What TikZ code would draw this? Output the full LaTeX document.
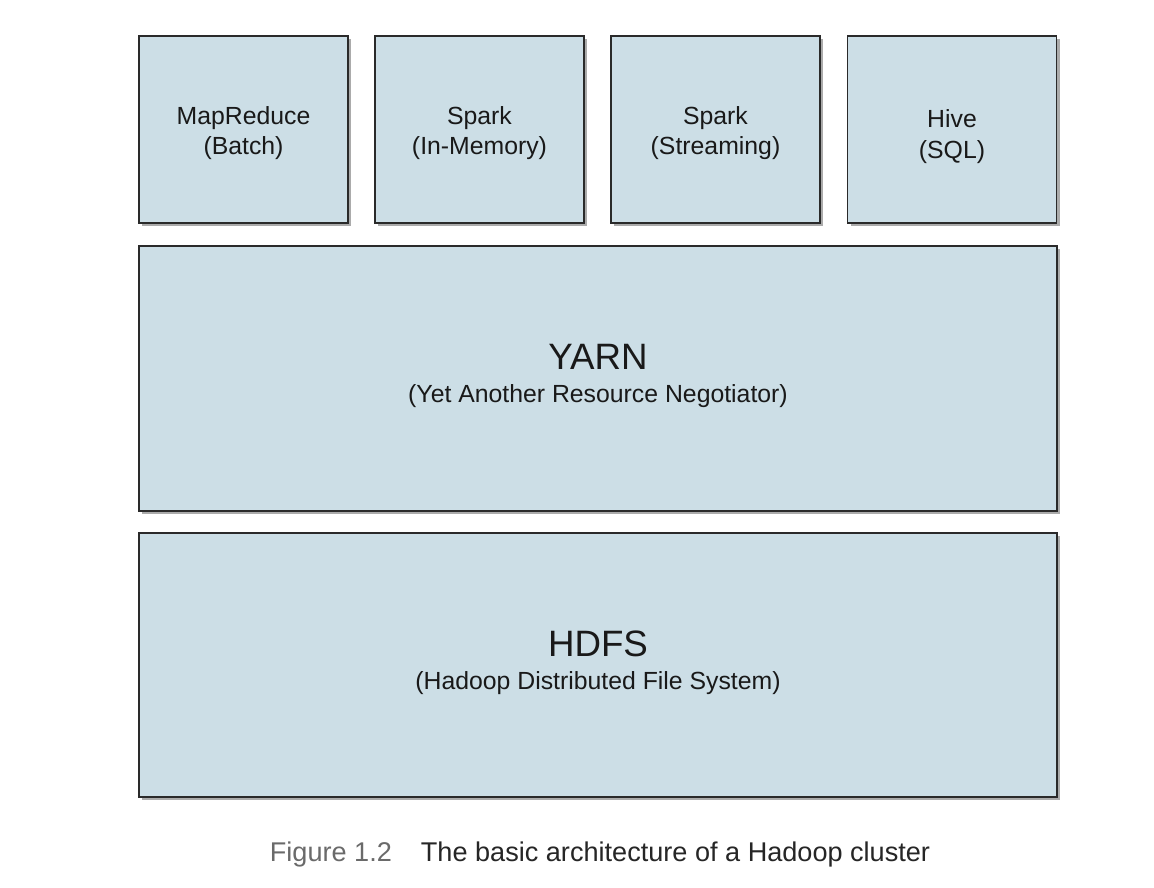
\documentclass[tikz,border=0pt]{standalone}
\usepackage{fontspec}
\setmainfont{Liberation Sans}
\usetikzlibrary{shadows}
\definecolor{boxfill}{HTML}{CCDEE6}
\definecolor{boxline}{HTML}{2A2A2A}
\definecolor{capgray}{HTML}{6A6A6A}
\begin{document}
\begin{tikzpicture}[x=1pt,y=-1pt,
  layer/.style={draw=boxline, line width=1.6pt, fill=boxfill, inner sep=0pt,
    drop shadow={shadow xshift=3pt, shadow yshift=-3pt, fill=black!55, opacity=0.6}},
  small/.style={layer, minimum width=209pt, minimum height=187pt},
  big/.style={layer, minimum width=918pt, minimum height=265pt},
  txt/.style={align=center, inner sep=0pt, text=black!90, font=\fontsize{24.8}{30.5}\selectfont},
  title/.style={font=\fontsize{36.7}{40}\selectfont}
]
\useasboundingbox[fill=white] (0,0) rectangle (1154,888);
\node[small] (mr) at (243.5,129.5) {};
\node[small] (spm) at (479.5,129.5) {};
\node[small] (sps) at (715.5,129.5) {};
\node[small] (hive) at (952,129.5) {};
\node[txt] (mrt) at (243.5,133) {MapReduce\\(Batch)};
\node[txt] (spmt) at (479.5,133) {Spark\\(In-Memory)};
\node[txt] (spst) at (715.5,133) {Spark\\(Streaming)};
\node[txt] (hivet) at (952,136.5) {Hive\\(SQL)};
\node[big] (yarn) at (598,378.5) {};
\node[big, minimum height=264pt] (hdfs) at (598,665) {};
\node[txt] (yarnt) at (598,376) {{\fontsize{36.7}{40}\selectfont YARN}\\[3pt](Yet Another Resource Negotiator)};
\node[txt] (hdfst) at (598,663) {{\fontsize{36.7}{40}\selectfont HDFS}\\[3pt](Hadoop Distributed File System)};
\node[font=\fontsize{27.1}{30}\selectfont, inner sep=0pt] (cap) at (600,854)
  {\textcolor{capgray}{Figure 1.2}\hspace{29pt}\textcolor{black!85}{The basic architecture of a Hadoop cluster}};
\end{tikzpicture}
\end{document}
